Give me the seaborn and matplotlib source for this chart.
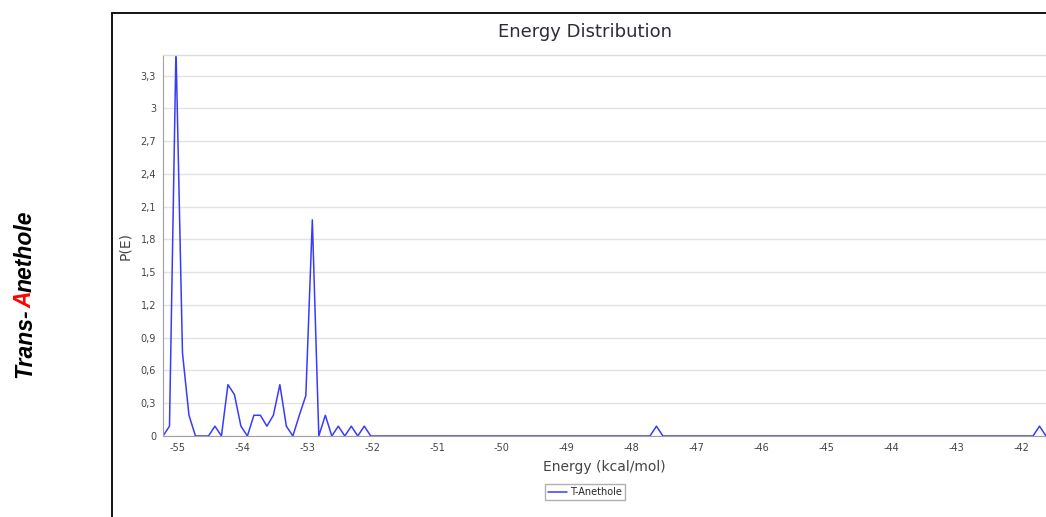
import numpy as np
import pandas as pd
import matplotlib
matplotlib.use("Agg")
import matplotlib.pyplot as plt
from matplotlib.lines import Line2D
from matplotlib.ticker import MultipleLocator, FixedLocator
import seaborn as sns

# ---------------- data ----------------
energy = [
    -55.22, -55.12, -55.02, -54.92, -54.82, -54.72, -54.62, -54.52, -54.42, -54.32,
    -54.22, -54.12, -54.02, -53.92, -53.82, -53.72, -53.62, -53.52, -53.42, -53.32,
    -53.22, -53.12, -53.02, -52.92, -52.82, -52.72, -52.62, -52.52, -52.42, -52.32,
    -52.22, -52.12, -52.02, -51.92, -51.82, -51.72, -51.62, -51.52, -51.42, -51.32,
    -51.22, -51.12, -51.02, -50.92, -50.82, -50.72, -50.62, -50.52, -50.42, -50.32,
    -50.22, -50.12, -50.02, -49.92, -49.82, -49.72, -49.62, -49.52, -49.42, -49.32,
    -49.22, -49.12, -49.02, -48.92, -48.82, -48.72, -48.62, -48.52, -48.42, -48.32,
    -48.22, -48.12, -48.02, -47.92, -47.82, -47.72, -47.62, -47.52, -47.42, -47.32,
    -47.22, -47.12, -47.02, -46.92, -46.82, -46.72, -46.62, -46.52, -46.42, -46.32,
    -46.22, -46.12, -46.02, -45.92, -45.82, -45.72, -45.62, -45.52, -45.42, -45.32,
    -45.22, -45.12, -45.02, -44.92, -44.82, -44.72, -44.62, -44.52, -44.42, -44.32,
    -44.22, -44.12, -44.02, -43.92, -43.82, -43.72, -43.62, -43.52, -43.42, -43.32,
    -43.22, -43.12, -43.02, -42.92, -42.82, -42.72, -42.62, -42.52, -42.42, -42.32,
    -42.22, -42.12, -42.02, -41.92, -41.82, -41.72, -41.62,
]
prob = [
    0, 0.09, 3.55, 0.76, 0.19, 0, 0, 0, 0.09, 0,
    0.47, 0.38, 0.09, 0, 0.19, 0.19, 0.09, 0.19, 0.47, 0.09,
    0, 0.19, 0.37, 1.98, 0, 0.19, 0, 0.09, 0, 0.09,
    0, 0.09, 0, 0, 0, 0, 0, 0, 0, 0,
    0, 0, 0, 0, 0, 0, 0, 0, 0, 0,
    0, 0, 0, 0, 0, 0, 0, 0, 0, 0,
    0, 0, 0, 0, 0, 0, 0, 0, 0, 0,
    0, 0, 0, 0, 0, 0, 0.09, 0, 0, 0,
    0, 0, 0, 0, 0, 0, 0, 0, 0, 0,
    0, 0, 0, 0, 0, 0, 0, 0, 0, 0,
    0, 0, 0, 0, 0, 0, 0, 0, 0, 0,
    0, 0, 0, 0, 0, 0, 0, 0, 0, 0,
    0, 0, 0, 0, 0, 0, 0, 0, 0, 0,
    0, 0, 0, 0, 0, 0.09, 0,
]
series_name = "T-Anethole"
xtick_values = [-55, -54, -53, -52, -51, -50, -49, -48, -47, -46, -45, -44, -43, -42]
xtick_labels = ["-55", "-54", "-53", "-52", "-51", "-50", "-49", "-48", "-47",
                "-46", "-45", "-44", "-43", "-42"]
ytick_values = [0, 0.3, 0.6, 0.9, 1.2, 1.5, 1.8, 2.1, 2.4, 2.7, 3.0, 3.3]
ytick_labels = ["0", "0,3", "0,6", "0,9", "1,2", "1,5", "1,8", "2,1", "2,4",
                "2,7", "3", "3,3"]
title = "Energy Distribution"
xlabel = "Energy (kcal/mol)"
ylabel = "P(E)"
side_parts = [("Trans-", "black"), ("A", "red"), ("nethole", "black")]

df = pd.DataFrame({"Energy": energy, "P": prob, "series": series_name})

# ---------------- figure ----------------
sns.set_style("white")
plt.rcParams["font.family"] = ["DejaVu Sans"]

W, H = 1046, 517
fig = plt.figure(figsize=(W / 100, H / 100), dpi=100)
ax = fig.add_axes([163 / W, 1 - 436 / H, (1046 - 163) / W, (436 - 55) / H])

sns.lineplot(data=df, x="Energy", y="P", hue="series", palette=["#3a3aff"],
             estimator=None, sort=False, linewidth=1.1, ax=ax, legend=False,
             clip_on=True)

ax.set_xlim(-55.22, -41.62)
ax.set_ylim(0, 3.49)

ax.set_xticks(xtick_values)
ax.set_xticklabels(xtick_labels)
ax.set_yticks(ytick_values)
ax.set_yticklabels(ytick_labels)
ax.xaxis.set_minor_locator(MultipleLocator(0.2))
ax.yaxis.set_minor_locator(MultipleLocator(0.1))

ax.tick_params(axis="both", which="major", direction="out", length=3,
               width=0.8, color="#a0a0a0", labelsize=7, labelcolor="#444444", pad=2)
ax.tick_params(axis="both", which="minor", direction="out", length=2,
               width=0.6, color="#b0b0b0")

ax.grid(axis="y", which="major", color="#e3e3e3", linewidth=1.0)
ax.grid(axis="x", visible=False)
ax.set_axisbelow(True)

for side in ["left", "bottom"]:
    ax.spines[side].set_color("#a0a0a0")
    ax.spines[side].set_linewidth(0.8)
ax.spines["top"].set_color("#dcdcdc")
ax.spines["top"].set_linewidth(1.0)
ax.spines["right"].set_visible(False)

ax.set_xlabel(xlabel, fontsize=10, color="#444444", labelpad=5)
ax.set_ylabel(ylabel, fontsize=10, color="#444444", labelpad=6)

fig.text(585 / W, 1 - 32 / H, title, ha="center", va="center",
         fontsize=13, color="#2b2b3b")

# panel frame (top and left border)
fig.add_artist(Line2D([112 / W, 1.0], [1 - 13 / H, 1 - 13 / H],
                      color="black", linewidth=1.3, transform=fig.transFigure))
fig.add_artist(Line2D([112 / W, 112 / W], [0, 1 - 13 / H],
                      color="black", linewidth=1.3, transform=fig.transFigure))

# legend
handle = Line2D([], [], color="#3a3aff", linewidth=1.1)
fig.legend([handle], [series_name], loc="center", bbox_to_anchor=(585 / W, 1 - 492 / H),
           fontsize=7, frameon=True, fancybox=False, edgecolor="#b0b0b0",
           handlelength=1.9, handletextpad=0.3, borderpad=0.35, framealpha=1)

# side label with red "A"
fig.canvas.draw()
renderer = fig.canvas.get_renderer()
y = 1 - 378 / H
for part, col in side_parts:
    t = fig.text(25 / W, y, part, rotation=90, ha="center", va="bottom",
                 color=col, fontsize=16.5, fontweight="bold", fontstyle="italic",
                 family=["Liberation Sans", "DejaVu Sans"])
    bb = t.get_window_extent(renderer)
    y += bb.height / fig.bbox.height

fig.savefig("out.png", dpi=100)
